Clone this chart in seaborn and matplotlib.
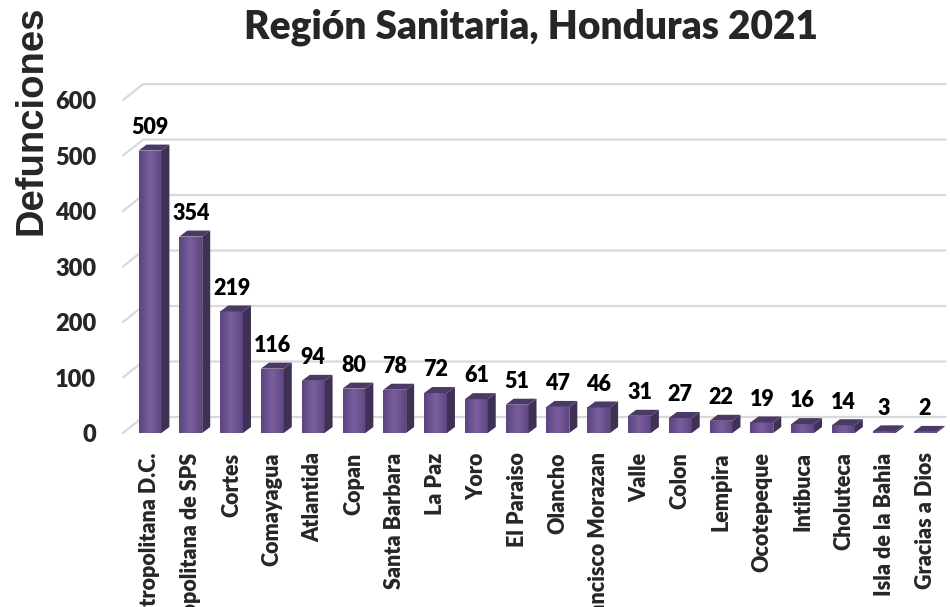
import matplotlib
matplotlib.use('Agg')
import matplotlib.pyplot as plt
from matplotlib.colors import LinearSegmentedColormap
from matplotlib.patches import Polygon
import numpy as np
import pandas as pd
import seaborn as sns

regiones = ['Metropolitana D.C.', 'Metropolitana de SPS', 'Cortes', 'Comayagua',
            'Atlantida', 'Copan', 'Santa Barbara', 'La Paz', 'Yoro', 'El Paraiso',
            'Olancho', 'Francisco Morazan', 'Valle', 'Colon', 'Lempira',
            'Ocotepeque', 'Intibuca', 'Choluteca', 'Isla de la Bahia', 'Gracias a Dios']
defunciones = [509, 354, 219, 116, 94, 80, 78, 72, 61, 51, 47, 46, 31, 27, 22, 19, 16, 14, 3, 2]
ticks_y = [0, 100, 200, 300, 400, 500, 600]

df = pd.DataFrame({'region': regiones, 'defunciones': defunciones})

sns.set_style('white')
plt.rcParams['font.family'] = ['Lato', 'DejaVu Sans']
peso = 'heavy'

W, H = 950, 607
fig = plt.figure(figsize=(W / 100, H / 100), dpi=100)
# eje: 0 en y=433 px, 100 unidades ~ 55.5 px
ax = fig.add_axes([129.6 / W, 174 / H, 815.8 / W, 344 / H])

color_frente = '#6a5090'
color_lado = '#3f3155'
color_tapa = '#4b3a66'

sns.barplot(data=df, x='region', y='defunciones', color=color_frente, saturation=1,
            width=0.56, linewidth=0, ax=ax, zorder=3)
ax.set_xlim(-0.5, len(regiones) - 0.5)
ax.set_ylim(0, 620)
ax.set_xlabel('')
ax.set_ylabel('')
for s in ax.spines.values():
    s.set_visible(False)

# conversion pixeles -> datos
p0 = ax.transData.transform((0, 0))
p1 = ax.transData.transform((1, 100))
px_x = p1[0] - p0[0]          # px por categoria
px_y = (p1[1] - p0[1]) / 100  # px por unidad


def dx(px):
    return px / px_x


def dy(px):
    return px / px_y


# lineas de cuadricula en perspectiva (pared del fondo)
x_front = -0.5 + dx(123 - 129.6)
x_back = -0.5 + dx(143 - 129.6)
x_end = len(regiones) - 0.5
for v in ticks_y:
    ax.plot([x_front, x_back, x_end], [v, v + dy(16), v + dy(16)],
            color='#d9d9d9', lw=1.6, zorder=0, clip_on=False, solid_joinstyle='miter')

# caras 3D de las barras
grad = LinearSegmentedColormap.from_list('morado', ['#5b4480', '#7a5f9e', '#5e4782'])
gx = np.linspace(0, 1, 64).reshape(1, -1)
bdx, bdy = dx(8), dy(6)
for p in ax.patches[:len(defunciones)]:
    x0, w, h = p.get_x(), p.get_width(), p.get_height()
    im = ax.imshow(gx, cmap=grad, aspect='auto', extent=(x0, x0 + w, 0, h), zorder=3.1)
    im.set_clip_path(p)
    xr = x0 + w
    ax.add_patch(Polygon([(xr, 0), (xr + bdx, bdy), (xr + bdx, h + bdy), (xr, h)],
                         closed=True, fc=color_lado, ec='none', zorder=3.2))
    ax.add_patch(Polygon([(x0, h), (xr, h), (xr + bdx, h + bdy), (x0 + bdx, h + bdy)],
                         closed=True, fc=color_tapa, ec='none', zorder=3.2))
    ax.annotate(f'{int(h)}', (x0 + w / 2, h), xytext=(0, 12), textcoords='offset points',
                ha='center', va='baseline', fontsize=15.5, fontweight=peso, color='black')

ax.set_xlim(-0.5, len(regiones) - 0.5)
ax.set_ylim(0, 620)

ax.set_yticks(ticks_y)
ax.set_yticklabels([str(t) for t in ticks_y], fontsize=17, fontweight=peso)
ax.tick_params(axis='y', length=0, pad=24)
ax.set_xticks(range(len(regiones)))
ax.set_xticklabels(regiones, rotation=90, fontsize=15.5, fontweight=peso)
ax.tick_params(axis='x', length=0, pad=14)

fig.text(531 / W, 1 - 38 / H, 'Región Sanitaria, Honduras 2021', ha='center',
         va='baseline', fontsize=28, fontweight=peso)
fig.text(32 / W, 1 - 120 / H, 'Defunciones', rotation=90, ha='center', va='center',
         fontsize=27.5, fontweight='bold', family=['Liberation Sans', 'DejaVu Sans'])

fig.savefig('out.png', dpi=100)
